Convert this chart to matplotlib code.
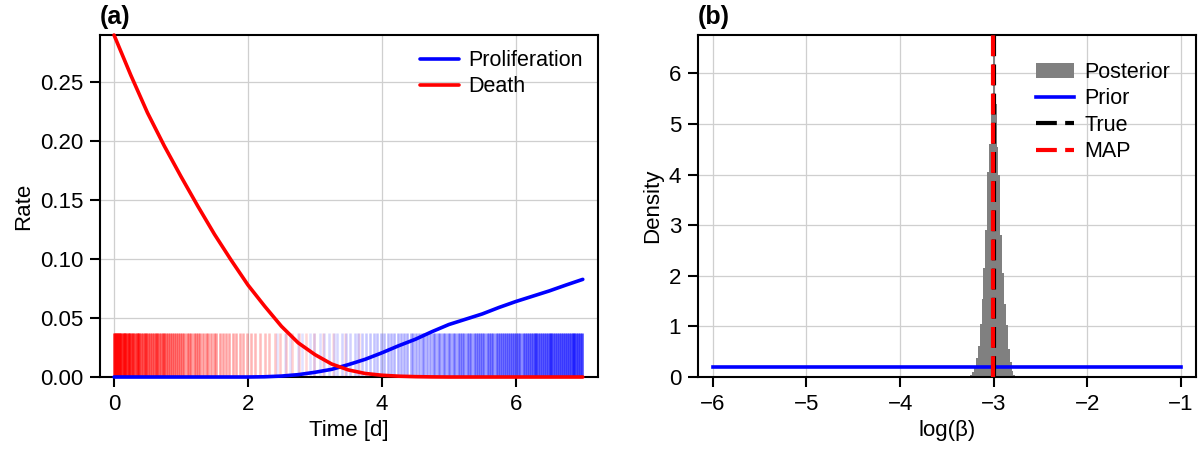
import numpy as np
import matplotlib
matplotlib.use("Agg")
import matplotlib.pyplot as plt

plt.rcParams["font.family"] = ["Liberation Sans", "DejaVu Sans"]
plt.rcParams["font.size"] = 16
plt.rcParams["axes.unicode_minus"] = True

# ---- (a) rates over time ----
time_d = [0.0, 0.25, 0.5, 0.75, 1.0, 1.25, 1.5, 1.75, 2.0, 2.25, 2.5, 2.75,
          3.0, 3.25, 3.5, 3.75, 4.0, 4.25, 4.5, 4.75, 5.0, 5.25, 5.5, 5.75,
          6.0, 6.25, 6.5, 6.75, 7.0]
death_rate = [0.290, 0.256, 0.224, 0.196, 0.170, 0.145, 0.121, 0.099, 0.078,
              0.060, 0.043, 0.029, 0.019, 0.011, 0.006, 0.003, 0.0015, 0.0007,
              0.0003, 0.0001, 0.0, 0.0, 0.0, 0.0, 0.0, 0.0, 0.0, 0.0, 0.0]
prolif_rate = [0.0, 0.0, 0.0, 0.0, 0.0, 0.0, 0.0, 0.0, 0.0, 0.0002, 0.0008,
               0.002, 0.004, 0.0065, 0.0105, 0.015, 0.0205, 0.0265, 0.032,
               0.0385, 0.0445, 0.049, 0.0535, 0.059, 0.064, 0.0685, 0.073,
               0.078, 0.0828]

# event times (days)
death_events = [0.00, 0.01, 0.03, 0.04, 0.06, 0.08, 0.09, 0.11, 0.13, 0.15,
                0.17, 0.18, 0.21, 0.23, 0.24, 0.27, 0.29, 0.31, 0.34, 0.36,
                0.38, 0.41, 0.43, 0.46, 0.48, 0.51, 0.53, 0.56, 0.59, 0.62,
                0.64, 0.67, 0.70, 0.73, 0.75, 0.78, 0.81, 0.84, 0.87, 0.90,
                0.93, 0.96, 0.99, 1.02, 1.05, 1.09, 1.12, 1.15, 1.19, 1.22,
                1.26, 1.29, 1.33, 1.37, 1.41, 1.45, 1.49, 1.53, 1.58, 1.62,
                1.67, 1.72, 1.77, 1.82, 1.88, 1.93, 1.99, 2.05, 2.11, 2.18,
                2.25, 2.32, 2.40, 2.48, 2.57, 2.66, 2.76, 2.87, 2.99, 3.12,
                3.27, 3.45, 3.66]
prolif_events = [2.44, 2.55, 2.63, 2.74, 2.81, 2.92, 2.99, 3.07, 3.13, 3.21,
                 3.28, 3.33, 3.41, 3.47, 3.52, 3.60, 3.64, 3.71, 3.77, 3.82,
                 3.88, 3.93, 3.99, 4.03, 4.09, 4.14, 4.18, 4.24, 4.28, 4.33,
                 4.37, 4.43, 4.46, 4.51, 4.55, 4.60, 4.63, 4.68, 4.72, 4.76,
                 4.79, 4.84, 4.87, 4.91, 4.95, 4.98, 5.02, 5.06, 5.09, 5.13,
                 5.16, 5.20, 5.23, 5.27, 5.30, 5.33, 5.37, 5.40, 5.43, 5.47,
                 5.50, 5.53, 5.57, 5.60, 5.63, 5.66, 5.70, 5.73, 5.76, 5.79,
                 5.82, 5.86, 5.89, 5.92, 5.95, 5.98, 6.01, 6.04, 6.07, 6.10,
                 6.13, 6.16, 6.19, 6.22, 6.25, 6.28, 6.30, 6.33, 6.36, 6.39,
                 6.42, 6.45, 6.48, 6.51, 6.53, 6.56, 6.59, 6.62, 6.65, 6.68,
                 6.70, 6.73, 6.76, 6.79, 6.82, 6.85, 6.87, 6.90, 6.93, 6.96,
                 6.99]
rug_height = 0.037

# ---- (b) posterior of log(beta) ----
post_centers = [-3.24, -3.22, -3.20, -3.18, -3.16, -3.14, -3.12, -3.10,
                -3.08, -3.06, -3.04, -3.02, -3.00, -2.98, -2.96, -2.94,
                -2.92, -2.90, -2.88, -2.86, -2.84, -2.82, -2.80, -2.78]
post_density = [0.04, 0.10, 0.22, 0.38, 0.62, 1.05, 1.55, 2.15, 2.90, 4.05,
                4.60, 5.50, 6.44, 5.40, 4.55, 4.00, 2.80, 2.05, 1.45, 1.02,
                0.55, 0.30, 0.12, 0.04]
bin_width = 0.02
prior_x = [-6.0, -1.0]
prior_y = [0.2, 0.2]
true_log_beta = -3.0
map_log_beta = -3.008


def style_axes(ax):
    for s in ax.spines.values():
        s.set_linewidth(1.5)
    ax.tick_params(direction="out", length=7, width=1.5, pad=5, labelsize=16)
    ax.grid(True, color="#cfcfcf", linewidth=0.9)
    ax.set_axisbelow(True)


fig, (ax1, ax2) = plt.subplots(1, 2, figsize=(12.03, 4.5), dpi=100)
fig.subplots_adjust(left=0.0831, right=0.9942, bottom=0.1622, top=0.9222,
                    wspace=0.2)

# rug of events, shaded by the rate at the event time
d_alpha = 0.1 + 0.75 * np.interp(death_events, time_d, death_rate) / max(death_rate)
p_alpha = 0.1 + 0.65 * np.interp(prolif_events, time_d, prolif_rate) / max(prolif_rate)
for t, a in zip(death_events, d_alpha):
    ax1.vlines(t, 0, rug_height, color="red", alpha=a, linewidth=1.8, zorder=1)
for t, a in zip(prolif_events, p_alpha):
    ax1.vlines(t, 0, rug_height, color="blue", alpha=a, linewidth=1.8, zorder=1)

ax1.plot(time_d, prolif_rate, color="blue", lw=2.6, label="Proliferation",
         clip_on=False, zorder=3, solid_capstyle="round")
ax1.plot(time_d, death_rate, color="red", lw=2.6, label="Death",
         clip_on=False, zorder=4, solid_capstyle="round")
ax1.set_xlim(-0.21, 7.23)
ax1.set_ylim(0, max(death_rate))
ax1.set_xticks([0, 2, 4, 6])
ax1.set_yticks([0, 0.05, 0.10, 0.15, 0.20, 0.25])
ax1.yaxis.set_major_formatter(matplotlib.ticker.FormatStrFormatter("%.2f"))
ax1.set_xlabel("Time [d]", fontsize=16)
ax1.set_ylabel("Rate", fontsize=16)
ax1.legend(loc="upper right", frameon=False, fontsize=15.5, handlelength=1.8,
           handletextpad=0.45, borderaxespad=0.3, labelspacing=0.25)
ax1.set_title("(a)", loc="left", fontweight="bold", fontsize=18, pad=8)
style_axes(ax1)

# posterior histogram, prior, true and MAP values
ax2.bar(post_centers, post_density, width=bin_width, color="grey",
        linewidth=0, label="Posterior", zorder=2)
ax2.plot(prior_x, prior_y, color="blue", lw=2.6, label="Prior", zorder=3)
ax2.axvline(true_log_beta, color="black", lw=3, linestyle=(0, (5, 2)),
            label="True", zorder=4)
ax2.axvline(map_log_beta, color="red", lw=3, linestyle=(0, (5, 2)),
            label="MAP", zorder=5)
ax2.set_xlim(-6.16, -0.84)
ax2.set_ylim(0, 6.76)
ax2.set_xticks([-6, -5, -4, -3, -2, -1])
ax2.set_yticks([0, 1, 2, 3, 4, 5, 6])
ax2.set_xlabel("log(β)", fontsize=16)
ax2.set_ylabel("Density", fontsize=16)
handles, labels = ax2.get_legend_handles_labels()
order = [labels.index(k) for k in ["Posterior", "Prior", "True", "MAP"]]
ax2.legend([handles[i] for i in order], [labels[i] for i in order],
           loc="upper right", frameon=False, fontsize=15.5, handlelength=1.8,
           handletextpad=0.45, borderaxespad=0.3, labelspacing=0.25,
           bbox_to_anchor=(0.978, 0.965))
ax2.set_title("(b)", loc="left", fontweight="bold", fontsize=18, pad=8)
style_axes(ax2)

fig.savefig("out.png", dpi=100)
